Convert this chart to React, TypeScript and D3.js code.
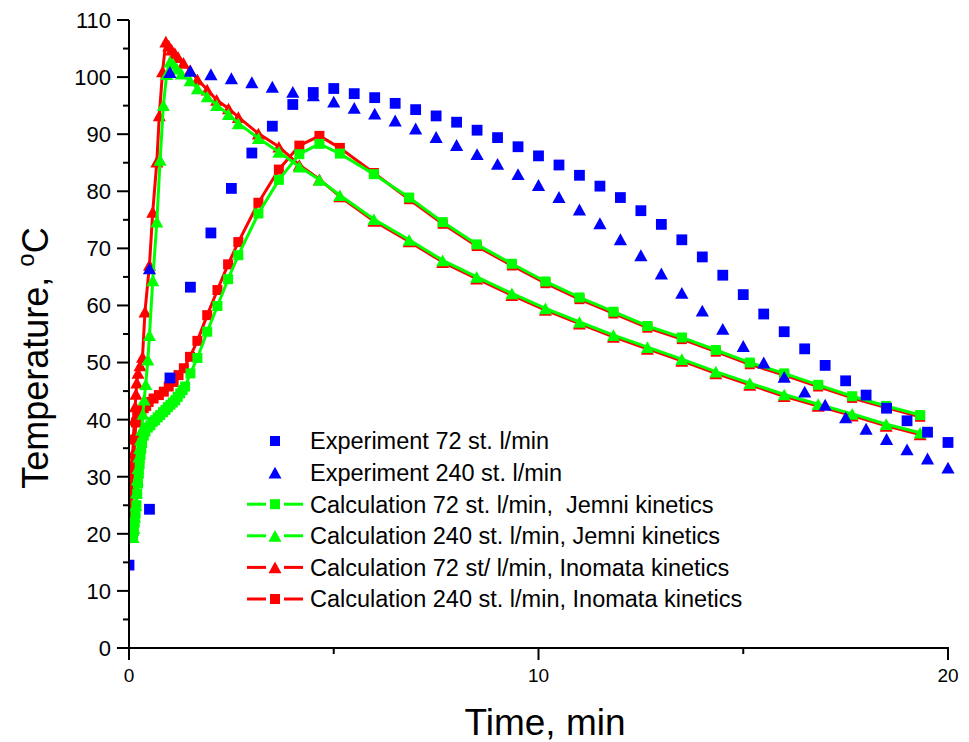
import React from 'react';
import * as d3 from 'd3';

// ---------- data ----------
const expTime72 = [0, 0.5, 1, 1.5, 2, 2.5, 3, 3.5, 4, 4.5, 5, 5.5, 6, 6.5, 7, 7.5, 8, 8.5, 9, 9.5, 10, 10.5, 11, 11.5, 12, 12.5, 13, 13.5, 14, 14.5, 15, 15.5, 16, 16.5, 17, 17.5, 18, 18.5, 19, 19.5, 20];
const expTemp72 = [14.5, 24.3, 47.3, 63.2, 72.7, 80.5, 86.7, 91.4, 95.2, 97.3, 98.0, 97.1, 96.4, 95.4, 94.3, 93.2, 92.1, 90.7, 89.4, 87.8, 86.2, 84.6, 82.8, 80.9, 78.9, 76.6, 74.2, 71.5, 68.5, 65.3, 61.9, 58.5, 55.4, 52.4, 49.5, 46.8, 44.3, 42.0, 39.8, 37.8, 36.0];

const expTime240 = [0.5, 1, 1.5, 2, 2.5, 3, 3.5, 4, 4.5, 5, 5.5, 6, 6.5, 7, 7.5, 8, 8.5, 9, 9.5, 10, 10.5, 11, 11.5, 12, 12.5, 13, 13.5, 14, 14.5, 15, 15.5, 16, 16.5, 17, 17.5, 18, 18.5, 19, 19.5, 20];
const expTemp240 = [66.5, 100.9, 101.1, 100.5, 99.8, 99.1, 98.3, 97.4, 96.8, 95.7, 94.6, 93.6, 92.4, 91.0, 89.5, 88.1, 86.5, 84.8, 83.0, 81.1, 79.0, 76.8, 74.4, 71.6, 68.8, 65.6, 62.2, 59.1, 55.9, 52.9, 50.0, 47.5, 44.9, 42.6, 40.4, 38.4, 36.6, 34.8, 33.2, 31.6];

// Calculation 72 st. l/min, Jemni (green squares)
const calcJemni72: [number, number][] = [
  [0.10, 19.3], [0.12, 20.5], [0.14, 22], [0.16, 23.5], [0.18, 25], [0.20, 27], [0.22, 28.8], [0.24, 30.5],
  [0.26, 32.2], [0.28, 33.8], [0.30, 35], [0.32, 35.9], [0.36, 37.2], [0.40, 37.9], [0.46, 38.6], [0.52, 39.0],
  [0.58, 39.6], [0.64, 39.9], [0.70, 40.4], [0.76, 40.8], [0.83, 41.3], [0.89, 41.7], [0.95, 42.2], [1.01, 42.6],
  [1.07, 43.0], [1.13, 43.4], [1.19, 44.0], [1.25, 44.6], [1.31, 45.2], [1.37, 45.8], [1.5, 48.1], [1.67, 50.8],
  [1.91, 55.4], [2.16, 59.9], [2.42, 64.6], [2.67, 68.8], [3.16, 76.1], [3.66, 82.0], [4.16, 86.5], [4.65, 88.3],
  [5.15, 86.6], [5.98, 83.0], [6.84, 78.9], [7.66, 74.6], [8.49, 70.7], [9.35, 67.3], [10.17, 64.2], [11.0, 61.4],
  [11.83, 58.9], [12.66, 56.4], [13.5, 54.4], [14.33, 52.2], [15.16, 50.0], [16.0, 48.1], [16.83, 46.1],
  [17.66, 44.1], [18.49, 42.4], [19.32, 40.8],
];

// Calculation 240 st. l/min, Jemni (green triangles)
const calcJemni240: [number, number][] = [
  [0.10, 19.4], [0.12, 21], [0.14, 23], [0.16, 25], [0.18, 27.2], [0.20, 29.5], [0.22, 31.5], [0.24, 33.5],
  [0.26, 35], [0.28, 36.5], [0.31, 38.2], [0.34, 41], [0.37, 43.5], [0.41, 46.2], [0.46, 50.5], [0.50, 54.8],
  [0.58, 64.4], [0.68, 74.7], [0.76, 85.5], [0.84, 95.1], [0.92, 100.5], [1.0, 102.7], [1.08, 102.3],
  [1.17, 101.5], [1.28, 100.6], [1.49, 99.4], [1.67, 98.0], [1.91, 96.6], [2.14, 95.1], [2.43, 93.5],
  [2.67, 91.9], [3.16, 89.3], [3.66, 86.9], [4.16, 84.3], [4.65, 82.0], [5.15, 79.3], [5.98, 75.1], [6.84, 71.5],
  [7.66, 67.9], [8.49, 65.0], [9.35, 62.1], [10.17, 59.5], [11.0, 57.1], [11.83, 54.8], [12.66, 52.7],
  [13.5, 50.6], [14.33, 48.4], [15.16, 46.4], [16.0, 44.4], [16.83, 42.7], [17.66, 41.0], [18.49, 39.2], [19.32, 37.7],
];

// Calculation 72 st/ l/min, Inomata (red triangles)
const calcInomata72: [number, number][] = [
  [0.03, 25.4], [0.05, 28], [0.07, 31], [0.09, 34], [0.11, 37], [0.13, 40], [0.15, 42.3], [0.17, 44.5],
  [0.19, 46.5], [0.22, 48.2], [0.27, 49.5], [0.33, 51.0], [0.39, 58.9], [0.50, 67.1], [0.58, 76.4], [0.68, 85.2],
  [0.74, 93.3], [0.82, 101], [0.90, 106.2], [0.97, 105.5], [1.04, 104.8], [1.12, 104.2], [1.2, 103.5],
  [1.33, 102.5], [1.49, 101.2], [1.67, 99.6], [1.91, 97.8], [2.14, 96.0], [2.43, 94.5], [2.67, 93.0],
  [3.16, 90.1], [3.66, 87.8], [4.16, 84.6], [4.65, 82.1], [5.15, 79.1], [5.98, 74.8], [6.84, 71.2], [7.66, 67.6],
  [8.49, 64.7], [9.35, 61.8], [10.17, 59.2], [11.0, 56.8], [11.83, 54.5], [12.66, 52.4], [13.5, 50.3],
  [14.33, 48.1], [15.16, 46.1], [16.0, 44.1], [16.83, 42.4], [17.66, 40.7], [18.49, 38.9], [19.32, 37.4],
];

// Calculation 240 st. l/min, Inomata (red squares)
const calcInomata240: [number, number][] = [
  [0.05, 22], [0.08, 27], [0.11, 32], [0.14, 36.5], [0.17, 39.5], [0.20, 40.8], [0.25, 41.3], [0.30, 41.6],
  [0.36, 42.0], [0.42, 42.4], [0.48, 43.1], [0.60, 43.7], [0.73, 44.3], [0.85, 44.9], [0.97, 45.8], [1.09, 46.6],
  [1.21, 47.8], [1.34, 49.0], [1.49, 51.0], [1.67, 53.8], [1.91, 58.3], [2.16, 62.7], [2.42, 67.2], [2.67, 71.1],
  [3.16, 78.0], [3.66, 83.8], [4.16, 88.0], [4.65, 89.7], [5.15, 87.6], [5.98, 83.2], [6.84, 78.6], [7.66, 74.3],
  [8.49, 70.4], [9.35, 67.0], [10.17, 63.9], [11.0, 61.1], [11.83, 58.6], [12.66, 56.1], [13.5, 54.1],
  [14.33, 51.9], [15.16, 49.7], [16.0, 47.8], [16.83, 45.8], [17.66, 43.8], [18.49, 42.1], [19.32, 40.5],
];

const xMajorTicks = [0, 10, 20];
const xMinorTicks = [5, 15];
const yMajorTicks = [0, 10, 20, 30, 40, 50, 60, 70, 80, 90, 100, 110];
const yMinorTicks = [5, 15, 25, 35, 45, 55, 65, 75, 85, 95, 105];

const legendLabels = [
  'Experiment 72 st. l/min',
  'Experiment 240 st. l/min',
  'Calculation 72 st. l/min,  Jemni kinetics',
  'Calculation 240 st. l/min, Jemni kinetics',
  'Calculation 72 st/ l/min, Inomata kinetics',
  'Calculation 240 st. l/min, Inomata kinetics',
];

// ---------- styles ----------
const BLUE = '#0000ff';
const GREEN = '#00ff00';
const RED = '#ff0000';
const FONT = '"Liberation Sans", Arial, sans-serif';

const W = 969;
const H = 742;

const x = d3.scaleLinear().domain([0, 20]).range([129, 948]);
const y = d3.scaleLinear().domain([0, 110]).range([648, 20]);

function squarePath(cx: number, cy: number, s: number) {
  return `M${cx - s},${cy - s}h${2 * s}v${2 * s}h${-2 * s}Z`;
}
function trianglePath(cx: number, cy: number, s: number) {
  const h = s * 0.9;
  return `M${cx},${cy - h}L${cx + s},${cy + h}L${cx - s},${cy + h}Z`;
}

const lineGen = d3
  .line<[number, number]>()
  .x((d) => x(d[0]))
  .y((d) => y(d[1]));

function CalcSeries({ data, color, shape }: { data: [number, number][]; color: string; shape: 'sq' | 'tri' }) {
  return (
    <g>
      <path d={lineGen(data) || ''} fill="none" stroke={color} strokeWidth={3} strokeLinejoin="round" />
      {data.map((d, i) => (
        <path
          key={i}
          d={shape === 'sq' ? squarePath(x(d[0]), y(d[1]), 5) : trianglePath(x(d[0]), y(d[1]), 6.5)}
          fill={color}
        />
      ))}
    </g>
  );
}

export default function App() {
  const legendX0 = 247;
  const legendSym = 275;
  const legendText = 310;
  const legendY0 = 441;
  const legendDy = 31.6;
  const legendSpec: { color: string; shape: 'sq' | 'tri'; line: boolean }[] = [
    { color: BLUE, shape: 'sq', line: false },
    { color: BLUE, shape: 'tri', line: false },
    { color: GREEN, shape: 'sq', line: true },
    { color: GREEN, shape: 'tri', line: true },
    { color: RED, shape: 'tri', line: true },
    { color: RED, shape: 'sq', line: true },
  ];

  return (
    <svg
      width={W}
      height={H}
      viewBox={`0 0 ${W} ${H}`}
      style={{ position: 'absolute', left: 0, top: 0, background: '#fff', display: 'block' }}
      fontFamily={FONT}
    >
      <rect x={0} y={0} width={W} height={H} fill="#fff" />
      <defs>
        <clipPath id="plotClip">
          <rect x={129} y={0} width={W - 129} height={649} />
        </clipPath>
      </defs>

      <g clipPath="url(#plotClip)">
        <CalcSeries data={calcInomata72} color={RED} shape="tri" />
        <CalcSeries data={calcInomata240} color={RED} shape="sq" />
        <CalcSeries data={calcJemni72} color={GREEN} shape="sq" />
        <CalcSeries data={calcJemni240} color={GREEN} shape="tri" />
        {expTime72.map((t, i) => (
          <path key={'e72' + i} d={squarePath(x(t), y(expTemp72[i]), 5.4)} fill={BLUE} />
        ))}
        {expTime240.map((t, i) => (
          <path key={'e240' + i} d={trianglePath(x(t), y(expTemp240[i]), 6.6)} fill={BLUE} />
        ))}
      </g>

      {/* axes */}
      <g stroke="#000" strokeWidth={2}>
        <line x1={x(0)} x2={x(0)} y1={y(110)} y2={y(0) + 1} />
        <line x1={x(0) - 1} x2={x(20) + 1} y1={y(0)} y2={y(0)} />
        {yMajorTicks.map((v) => (
          <line key={'ym' + v} x1={x(0) - 12} x2={x(0)} y1={y(v)} y2={y(v)} />
        ))}
        {yMinorTicks.map((v) => (
          <line key={'yn' + v} x1={x(0) - 6} x2={x(0)} y1={y(v)} y2={y(v)} />
        ))}
        {xMajorTicks.map((v) => (
          <line key={'xm' + v} x1={x(v)} x2={x(v)} y1={y(0)} y2={y(0) + 12} />
        ))}
        {xMinorTicks.map((v) => (
          <line key={'xn' + v} x1={x(v)} x2={x(v)} y1={y(0)} y2={y(0) + 6} />
        ))}
      </g>
      <g fontSize={22} fill="#000">
        {yMajorTicks.map((v) => (
          <text key={'yl' + v} x={x(0) - 18} y={y(v)} dy="0.36em" textAnchor="end">
            {v}
          </text>
        ))}
        {xMajorTicks.map((v) => (
          <text key={'xl' + v} x={x(v)} y={y(0) + 34} textAnchor="middle" fontSize={19}>
            {v}
          </text>
        ))}
      </g>

      <text x={545} y={735} fontSize={37} textAnchor="middle" fill="#000">
        Time, min
      </text>
      <text
        transform={`translate(48, 358) rotate(-90)`}
        fontSize={36}
        textAnchor="middle"
        fill="#000"
      >
        Temperature, <tspan dy={-14} fontSize={24}>o</tspan>
        <tspan dy={14}>C</tspan>
      </text>

      {/* legend */}
      <g>
        {legendSpec.map((s, i) => {
          const cy = legendY0 + i * legendDy;
          return (
            <g key={'lg' + i}>
              {s.line && (
                <g stroke={s.color} strokeWidth={3}>
                  <line x1={legendX0} x2={266} y1={cy} y2={cy} />
                  <line x1={284} x2={303} y1={cy} y2={cy} />
                </g>
              )}
              <path
                d={s.shape === 'sq' ? squarePath(legendSym, cy, 5) : trianglePath(legendSym, cy, 6.5)}
                fill={s.color}
              />
              <text x={legendText} y={cy} dy="0.36em" fontSize={23.5} fill="#000" style={{ whiteSpace: 'pre' }}>
                {legendLabels[i]}
              </text>
            </g>
          );
        })}
      </g>
    </svg>
  );
}
